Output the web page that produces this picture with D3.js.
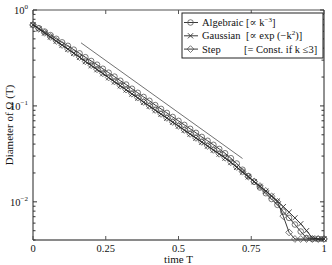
<!DOCTYPE html>
<html>
<head>
<meta charset="utf-8">
<script src="https://cdn.jsdelivr.net/npm/d3@7"></script>
<style>
  body { margin: 0; background: #fff; }
  text { font-family: "Liberation Serif", "DejaVu Serif", serif; fill: #111; }
</style>
</head>
<body>
<div id="chart"></div>
<script>
// time grid (step 0.02)
const times = d3.range(0, 51).map(i => +(i * 0.02).toFixed(2));

const algebraic = [
  0.700, 0.646, 0.596, 0.547, 0.501, 0.460, 0.423, 0.386, 0.353, 0.322,
  0.294, 0.269, 0.244, 0.222, 0.202, 0.183, 0.167, 0.151, 0.137, 0.124,
  0.113, 0.102, 0.0931, 0.0845, 0.0767, 0.0698, 0.0634, 0.0577, 0.0524, 0.0475,
  0.0433, 0.0393, 0.0356, 0.0321, 0.0285, 0.0251, 0.0216, 0.0186, 0.0162, 0.0141,
  0.0123, 0.0107, 0.0093, 0.0079, 0.0068, 0.0058, 0.0049, 0.0042, 0.0041, 0.0041,
  0.0041
];

const gaussian = [
  0.700, 0.635, 0.575, 0.522, 0.473, 0.430, 0.390, 0.353, 0.321, 0.290,
  0.264, 0.239, 0.217, 0.197, 0.178, 0.162, 0.147, 0.133, 0.121, 0.109,
  0.0993, 0.0902, 0.0820, 0.0745, 0.0676, 0.0615, 0.0558, 0.0508, 0.0461, 0.0419,
  0.0381, 0.0346, 0.0315, 0.0286, 0.0257, 0.0229, 0.0204, 0.0182, 0.0162, 0.0145,
  0.0129, 0.0115, 0.0102, 0.0089, 0.0078, 0.0068, 0.0059, 0.0050, 0.0042, 0.0041,
  0.0041
];

const step = [
  0.700, 0.637, 0.578, 0.524, 0.476, 0.432, 0.392, 0.356, 0.323, 0.292,
  0.266, 0.241, 0.219, 0.198, 0.180, 0.163, 0.148, 0.134, 0.122, 0.110,
  0.1000, 0.0908, 0.0825, 0.0750, 0.0680, 0.0619, 0.0562, 0.0511, 0.0464, 0.0422,
  0.0383, 0.0348, 0.0317, 0.0288, 0.0259, 0.0231, 0.0206, 0.0183, 0.0163, 0.0146,
  0.0130, 0.0114, 0.0100, 0.0071, 0.0048, 0.0041, 0.0041, 0.0041, 0.0041, 0.0041,
  0.0041
];

// slope guide line
const guideT = [0.165, 0.72];
const guideV = [0.455, 0.0283];

const xTicks = [0, 0.25, 0.5, 0.75, 1];
const xTickLabels = ["0", "0.25", "0.5", "0.75", "1"];
const yTicks = [1, 0.1, 0.01];
const yTickExp = ["0", "\u22121", "\u22122"];

const legendItems = [
  { name: "Algebraic", law: ["[\u221d k", "\u22123", "]"], marker: "circle" },
  { name: "Gaussian", law: ["[\u221d exp (\u2212k", "2", ")]"], marker: "cross" },
  { name: "Step", law: ["[= Const. if k \u22643]"], marker: "diamond" }
];

const width = 332, height = 265;
const margin = { top: 10, right: 8, bottom: 25, left: 33 };

const svg = d3.select("#chart").append("svg")
  .attr("width", width)
  .attr("height", height);

const x = d3.scaleLinear().domain([0, 1]).range([margin.left, width - margin.right]);
const y = d3.scaleLog().domain([0.004, 1]).range([height - margin.bottom, margin.top]);

const x0 = x.range()[0], x1 = x.range()[1], y0 = y.range()[0], y1 = y.range()[1];

// frame
svg.append("line").attr("x1", x0).attr("x2", x1).attr("y1", y1).attr("y2", y1)
  .attr("stroke", "#8a8a8a").attr("stroke-width", 1.6);
svg.append("line").attr("x1", x0).attr("x2", x1).attr("y1", y0).attr("y2", y0)
  .attr("stroke", "#8a8a8a").attr("stroke-width", 2);
svg.append("line").attr("x1", x0).attr("x2", x0).attr("y1", y1).attr("y2", y0)
  .attr("stroke", "#222").attr("stroke-width", 1);
svg.append("line").attr("x1", x1).attr("x2", x1).attr("y1", y1).attr("y2", y0)
  .attr("stroke", "#222").attr("stroke-width", 1);

// x ticks (inward, top and bottom)
const xt = svg.append("g");
xTicks.forEach((t, i) => {
  xt.append("line").attr("x1", x(t)).attr("x2", x(t)).attr("y1", y0).attr("y2", y0 - 4)
    .attr("stroke", "#555");
  xt.append("line").attr("x1", x(t)).attr("x2", x(t)).attr("y1", y1).attr("y2", y1 + 4)
    .attr("stroke", "#555");
  xt.append("text").attr("x", x(t)).attr("y", y0 + 12)
    .attr("text-anchor", "middle").attr("font-size", 10.5)
    .text(xTickLabels[i]);
});

// y ticks: major + minor, inward on both sides
const yt = svg.append("g");
const minor = [];
[0.001, 0.01, 0.1].forEach(dec => {
  for (let m = 2; m <= 9; m++) {
    const v = dec * m;
    if (v >= 0.004 && v < 1) minor.push(v);
  }
});
minor.forEach(v => {
  yt.append("line").attr("x1", x0).attr("x2", x0 + 2.5).attr("y1", y(v)).attr("y2", y(v))
    .attr("stroke", "#333");
  yt.append("line").attr("x1", x1).attr("x2", x1 - 2.5).attr("y1", y(v)).attr("y2", y(v))
    .attr("stroke", "#333");
});
yTicks.forEach((v, i) => {
  yt.append("line").attr("x1", x0).attr("x2", x0 + 4).attr("y1", y(v)).attr("y2", y(v))
    .attr("stroke", "#333");
  yt.append("line").attr("x1", x1).attr("x2", x1 - 4).attr("y1", y(v)).attr("y2", y(v))
    .attr("stroke", "#333");
  const lbl = yt.append("text").attr("x", x0 - 5).attr("y", y(v) + 4)
    .attr("text-anchor", "end").attr("font-size", 10.5);
  lbl.append("tspan").text("10");
  lbl.append("tspan").attr("dy", -5).attr("font-size", 7).text(yTickExp[i]);
});

// axis titles
svg.append("text")
  .attr("x", (x0 + x1) / 2).attr("y", height - 2)
  .attr("text-anchor", "middle").attr("font-size", 11)
  .text("time T");
svg.append("text")
  .attr("transform", `translate(13,${(y0 + y1) / 2}) rotate(-90)`)
  .attr("text-anchor", "middle").attr("font-size", 11)
  .text("Diameter of \u03a9 (T)");

// markers
function drawMarker(g, type, cx, cy) {
  if (type === "circle") {
    g.append("circle").attr("cx", cx).attr("cy", cy).attr("r", 2.8)
      .attr("fill", "none").attr("stroke", "#555").attr("stroke-width", 0.8);
  } else if (type === "diamond") {
    const s = 3.4;
    g.append("path")
      .attr("d", `M${cx},${cy - s}L${cx + s},${cy}L${cx},${cy + s}L${cx - s},${cy}Z`)
      .attr("fill", "none").attr("stroke", "#555").attr("stroke-width", 0.8);
  } else {
    const s = 2.6;
    g.append("path")
      .attr("d", `M${cx - s},${cy - s}L${cx + s},${cy + s}M${cx - s},${cy + s}L${cx + s},${cy - s}`)
      .attr("fill", "none").attr("stroke", "#333").attr("stroke-width", 0.9);
  }
}

const line = d3.line().x(d => x(d[0])).y(d => y(d[1]));
const series = [
  { values: algebraic, marker: "circle" },
  { values: step, marker: "diamond" },
  { values: gaussian, marker: "cross" }
];

const plot = svg.append("g");
series.forEach(s => {
  const pts = times.map((t, i) => [t, s.values[i]]);
  plot.append("path").attr("d", line(pts))
    .attr("fill", "none").attr("stroke", "#222").attr("stroke-width", 0.9);
  const mg = plot.append("g");
  pts.forEach(p => drawMarker(mg, s.marker, x(p[0]), y(p[1])));
});

// guide line
plot.append("line")
  .attr("x1", x(guideT[0])).attr("y1", y(guideV[0]))
  .attr("x2", x(guideT[1])).attr("y2", y(guideV[1]))
  .attr("stroke", "#333").attr("stroke-width", 0.7);

// legend
const lg = svg.append("g");
const lx = 182, ly = 13, lw = 141, lh = 45;
lg.append("rect").attr("x", lx).attr("y", ly).attr("width", lw).attr("height", lh)
  .attr("fill", "#fff").attr("stroke", "#222").attr("stroke-width", 1);
legendItems.forEach((d, i) => {
  const cy = ly + 9.5 + i * 13.3;
  lg.append("line").attr("x1", lx + 2).attr("x2", lx + 16).attr("y1", cy).attr("y2", cy)
    .attr("stroke", "#222").attr("stroke-width", 0.9);
  drawMarker(lg, d.marker, lx + 8.5, cy);
  lg.append("text").attr("x", lx + 20).attr("y", cy + 3.5)
    .attr("font-size", 10.5).text(d.name);
  const lawX = i === 2 ? lx + 62 : lx + 64;
  const t = lg.append("text").attr("x", lawX).attr("y", cy + 3.5).attr("font-size", 10.5);
  t.append("tspan").text(d.law[0]);
  if (d.law.length > 1) {
    t.append("tspan").attr("dy", -4.5).attr("font-size", 7).text(d.law[1]);
    t.append("tspan").attr("dy", 4.5).text(d.law[2]);
  }
});
</script>
</body>
</html>
